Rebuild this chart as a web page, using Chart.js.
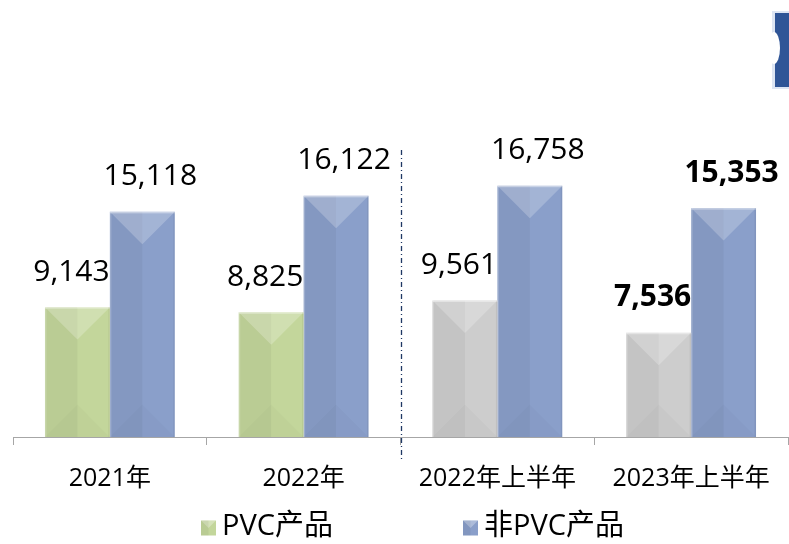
<!DOCTYPE html>
<html>
<head>
<meta charset="utf-8">
<script src="https://cdn.jsdelivr.net/npm/chart.js@4.4.0/dist/chart.umd.min.js"></script>
<style>
  html, body { margin: 0; padding: 0; background: #ffffff; }
  #wrap { width: 789px; height: 544px; }
</style>
</head>
<body>
<div id="wrap"><canvas id="c" width="789" height="544"></canvas></div>
<script>
const categories = ['2021年', '2022年', '2022年上半年', '2023年上半年'];
const seriesNames = ['PVC产品', '非PVC产品'];
const pvcValues = [9143, 8825, 9561, 7536];
const nonPvcValues = [15118, 16122, 16758, 15353];
const boldCategories = ['2023年上半年'];

const FONT = "'Open Sans', 'Noto Sans CJK SC', sans-serif";
const GREEN = '#c3d69b';
const GREY = '#cdcdcd';
const BLUE = '#8a9fca';

const pvcColors = categories.map((c, i) => (i < 2 ? GREEN : GREY));

function fmt(v) { return v.toLocaleString('en-US'); }

const decorPlugin = {
  id: 'decor',
  afterDatasetsDraw(chart) {
    const ctx = chart.ctx;
    const area = chart.chartArea;
    chart.data.datasets.forEach((ds, di) => {
      const meta = chart.getDatasetMeta(di);
      meta.data.forEach((bar) => {
        const w = bar.width;
        const l = bar.x - w / 2, r = bar.x + w / 2;
        const t = bar.y, b = Math.min(bar.base, area.bottom);
        ctx.save();
        ctx.beginPath();
        ctx.rect(area.left, area.top, area.right - area.left, area.bottom - area.top);
        ctx.clip();
        ctx.fillStyle = 'rgba(0,0,0,0.045)';
        ctx.fillRect(l, t, w / 2, b - t);
        ctx.beginPath();
        ctx.moveTo(l, t); ctx.lineTo(r, t); ctx.lineTo(bar.x, t + w / 2); ctx.closePath();
        ctx.fillStyle = 'rgba(255,255,255,0.22)';
        ctx.fill();
        ctx.beginPath();
        ctx.moveTo(l, b); ctx.lineTo(r, b); ctx.lineTo(bar.x, b - w / 2); ctx.closePath();
        ctx.fillStyle = 'rgba(0,0,0,0.02)';
        ctx.fill();
        ctx.fillStyle = 'rgba(255,255,255,0.2)';
        ctx.fillRect(l, t, 1.5, b - t);
        ctx.fillStyle = 'rgba(255,255,255,0.4)';
        ctx.fillRect(l, t, w, 1.5);
        ctx.fillStyle = 'rgba(0,0,0,0.06)';
        ctx.fillRect(r - 1.5, t, 1.5, b - t);
        ctx.restore();
      });
    });
    const offsets = [-6, 8];
    chart.data.datasets.forEach((ds, di) => {
      const meta = chart.getDatasetMeta(di);
      meta.data.forEach((bar, i) => {
        const bold = boldCategories.includes(chart.data.labels[i]);
        ctx.save();
        ctx.font = (bold ? 'bold ' : '') + '30px ' + FONT;
        ctx.fillStyle = '#000';
        ctx.textAlign = 'center';
        ctx.textBaseline = 'middle';
        ctx.fillText(fmt(ds.data[i]), bar.x + offsets[di], bar.y - 35);
        ctx.restore();
      });
    });
  },
  afterDraw(chart) {
    const ctx = chart.ctx;
    const xs = chart.scales.x;
    const dx = Math.round((xs.getPixelForValue(1) + xs.getPixelForValue(2)) / 2) + 0.5;
    ctx.save();
    ctx.strokeStyle = '#1f3864';
    ctx.lineWidth = 1.3;
    ctx.setLineDash([5, 3, 1, 3]);
    ctx.beginPath();
    ctx.moveTo(dx, 150);
    ctx.lineTo(dx, 462);
    ctx.stroke();
    ctx.restore();

    ctx.save();
    ctx.fillStyle = '#dde5f3';
    ctx.fillRect(772, 11, 20, 78);
    ctx.fillStyle = '#2f5597';
    ctx.fillRect(775, 13, 20, 74);
    ctx.fillStyle = '#ffffff';
    ctx.beginPath();
    ctx.ellipse(774, 48, 6, 16, 0, 0, Math.PI * 2);
    ctx.fill();
    ctx.restore();

    const items = [
      { text: chart.data.datasets[0].label, color: GREEN, x: 201 },
      { text: chart.data.datasets[1].label, color: BLUE, x: 463 }
    ];
    const ly = 527;
    items.forEach((it) => {
      ctx.save();
      const s = 15;
      const l = it.x, t = ly - s / 2 + 1;
      ctx.fillStyle = it.color;
      ctx.fillRect(l, t, s, s);
      ctx.beginPath();
      ctx.moveTo(l, t); ctx.lineTo(l + s, t); ctx.lineTo(l + s / 2, t + s / 2); ctx.closePath();
      ctx.fillStyle = 'rgba(255,255,255,0.3)';
      ctx.fill();
      ctx.fillStyle = 'rgba(0,0,0,0.05)';
      ctx.fillRect(l, t, s / 2, s);
      ctx.font = '29px ' + FONT;
      ctx.fillStyle = '#000';
      ctx.textAlign = 'left';
      ctx.textBaseline = 'middle';
      ctx.fillText(it.text, l + s + 6, ly);
      ctx.restore();
    });
  }
};

new Chart(document.getElementById('c'), {
  type: 'bar',
  data: {
    labels: categories,
    datasets: [
      {
        label: seriesNames[0],
        data: pvcValues,
        backgroundColor: pvcColors,
        borderWidth: 0,
        categoryPercentage: 0.67,
        barPercentage: 1
      },
      {
        label: seriesNames[1],
        data: nonPvcValues,
        backgroundColor: BLUE,
        borderWidth: 0,
        categoryPercentage: 0.67,
        barPercentage: 1
      }
    ]
  },
  options: {
    responsive: false,
    animation: false,
    layout: { padding: { left: 13, right: 1, top: 134, bottom: 31 } },
    plugins: {
      legend: { display: false },
      tooltip: { enabled: false }
    },
    scales: {
      x: {
        grid: { display: true, drawOnChartArea: false, tickLength: 8, color: '#a6a6a6', offset: true },
        border: { color: '#a6a6a6', width: 1 },
        ticks: { font: { size: 25, family: FONT }, color: '#000', padding: 19, maxRotation: 0 }
      },
      y: { display: false, min: 1000, max: 20000 }
    }
  },
  plugins: [decorPlugin]
});
</script>
</body>
</html>
